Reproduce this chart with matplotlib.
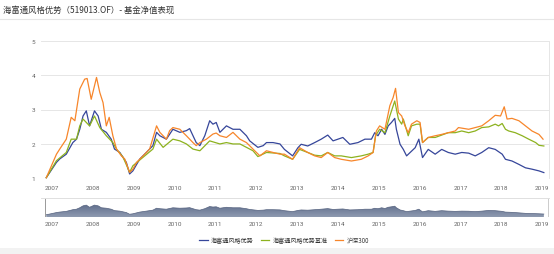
import numpy as np
import matplotlib
matplotlib.use("Agg")
import matplotlib.pyplot as plt
from matplotlib.colors import LinearSegmentedColormap
from matplotlib.patches import Rectangle
from matplotlib.lines import Line2D

plt.rcParams['font.family'] = ['Noto Sans CJK SC', 'DejaVu Sans']

title = "海富通风格优势（519013.OF）- 基金净值表现"
series_names = ["海富通风格优势", "海富通风格优势基准", "沪深300"]
year_ticks = list(range(2007, 2020))
y_ticks = [1, 2, 3, 4, 5]

# fund (blue)
fund_t = [2006.86, 2007.11, 2007.19, 2007.35, 2007.51, 2007.60, 2007.68, 2007.76, 2007.84, 2007.92,
          2008.04, 2008.13, 2008.21, 2008.33, 2008.45, 2008.53, 2008.66, 2008.82, 2008.90, 2008.98,
          2009.15, 2009.31, 2009.47, 2009.56, 2009.64, 2009.80, 2009.96, 2010.13, 2010.29, 2010.37,
          2010.53, 2010.62, 2010.74, 2010.86, 2010.94, 2011.02, 2011.11, 2011.27, 2011.43, 2011.60,
          2011.76, 2011.84, 2012.04, 2012.17, 2012.25, 2012.41, 2012.58, 2012.69, 2012.89, 2013.02,
          2013.10, 2013.26, 2013.43, 2013.59, 2013.75, 2013.88, 2014.00, 2014.12, 2014.29, 2014.49,
          2014.66, 2014.82, 2014.90, 2014.98, 2015.07, 2015.15, 2015.23, 2015.31, 2015.39, 2015.43,
          2015.52, 2015.60, 2015.68, 2015.89, 2015.98, 2016.07, 2016.21, 2016.38, 2016.54, 2016.70,
          2016.87, 2017.03, 2017.20, 2017.36, 2017.52, 2017.69, 2017.85, 2018.02, 2018.10, 2018.26,
          2018.43, 2018.59, 2018.75, 2018.92, 2019.04]
fund_v = [1.00, 1.45, 1.55, 1.69, 2.03, 2.13, 2.42, 2.81, 2.96, 2.52,
          2.96, 2.81, 2.42, 2.33, 2.13, 1.84, 1.74, 1.45, 1.11, 1.20,
          1.55, 1.74, 1.94, 2.33, 2.23, 2.13, 2.42, 2.33, 2.38, 2.44,
          2.03, 1.94, 2.23, 2.67, 2.57, 2.62, 2.33, 2.52, 2.42, 2.42,
          2.23, 2.08, 1.89, 1.94, 2.03, 2.03, 1.99, 1.83, 1.64, 1.88,
          1.98, 1.93, 2.03, 2.13, 2.25, 2.08, 2.13, 2.18, 1.98, 2.03,
          2.13, 2.13, 2.32, 2.23, 2.42, 2.27, 2.52, 2.62, 2.74, 2.42,
          1.98, 1.83, 1.64, 1.88, 2.13, 1.59, 1.83, 1.69, 1.83, 1.74,
          1.69, 1.74, 1.72, 1.64, 1.74, 1.88, 1.83, 1.69, 1.54, 1.49,
          1.39, 1.29, 1.25, 1.20, 1.15]

# benchmark (green)
bench_t = [2006.86, 2007.11, 2007.35, 2007.47, 2007.60, 2007.68, 2007.76, 2007.92, 2008.04, 2008.17,
           2008.33, 2008.49, 2008.58, 2008.74, 2008.90, 2008.98, 2009.23, 2009.47, 2009.56, 2009.72,
           2009.96, 2010.13, 2010.29, 2010.45, 2010.62, 2010.86, 2011.11, 2011.27, 2011.43, 2011.60,
           2011.76, 2011.92, 2012.04, 2012.25, 2012.58, 2012.69, 2012.89, 2013.06, 2013.26, 2013.43,
           2013.59, 2013.75, 2013.92, 2014.08, 2014.33, 2014.57, 2014.74, 2014.86, 2014.92, 2015.02,
           2015.15, 2015.27, 2015.39, 2015.48, 2015.56, 2015.60, 2015.72, 2015.80, 2015.93, 2016.01,
           2016.07, 2016.21, 2016.38, 2016.54, 2016.70, 2016.87, 2017.03, 2017.20, 2017.36, 2017.52,
           2017.69, 2017.85, 2017.93, 2018.02, 2018.10, 2018.18, 2018.34, 2018.51, 2018.67, 2018.84,
           2018.92, 2019.04]
bench_v = [1.00, 1.50, 1.74, 2.13, 2.13, 2.52, 2.72, 2.52, 2.81, 2.47,
           2.23, 2.03, 1.84, 1.60, 1.16, 1.35, 1.60, 1.84, 2.13, 1.89,
           2.13, 2.08, 1.99, 1.84, 1.79, 2.08, 1.99, 2.03, 1.99, 1.99,
           1.89, 1.79, 1.62, 1.74, 1.71, 1.64, 1.54, 1.83, 1.74, 1.66,
           1.64, 1.74, 1.64, 1.64, 1.59, 1.64, 1.69, 1.74, 2.23, 2.42,
           2.32, 2.81, 3.25, 2.72, 2.57, 2.72, 2.23, 2.52, 2.57, 2.57,
           2.03, 2.18, 2.18, 2.25, 2.32, 2.32, 2.37, 2.32, 2.37, 2.47,
           2.49, 2.57, 2.52, 2.59, 2.42, 2.37, 2.32, 2.23, 2.13, 2.03,
           1.95, 1.93]

# CSI 300 (orange)
csi_t = [2006.86, 2007.11, 2007.19, 2007.35, 2007.47, 2007.56, 2007.68, 2007.80, 2007.86, 2007.96,
         2008.09, 2008.17, 2008.25, 2008.33, 2008.40, 2008.49, 2008.58, 2008.70, 2008.78, 2008.90,
         2008.98, 2009.07, 2009.23, 2009.39, 2009.56, 2009.64, 2009.72, 2009.80, 2009.88, 2009.96,
         2010.13, 2010.29, 2010.45, 2010.53, 2010.62, 2010.78, 2010.94, 2011.02, 2011.11, 2011.27,
         2011.43, 2011.60, 2011.76, 2011.92, 2012.09, 2012.25, 2012.41, 2012.58, 2012.69, 2012.89,
         2013.06, 2013.26, 2013.43, 2013.59, 2013.75, 2013.92, 2014.08, 2014.33, 2014.57, 2014.74,
         2014.86, 2014.94, 2015.02, 2015.15, 2015.27, 2015.35, 2015.41, 2015.48, 2015.56, 2015.64,
         2015.72, 2015.80, 2015.93, 2016.01, 2016.07, 2016.21, 2016.38, 2016.54, 2016.70, 2016.87,
         2016.95, 2017.20, 2017.36, 2017.52, 2017.69, 2017.85, 2017.98, 2018.07, 2018.14, 2018.26,
         2018.43, 2018.59, 2018.75, 2018.92, 2019.02]
csi_v = [1.00, 1.69, 1.84, 2.13, 2.77, 2.67, 3.60, 3.89, 3.91, 3.30,
         3.94, 3.50, 3.20, 2.52, 2.77, 2.23, 1.84, 1.64, 1.55, 1.16,
         1.25, 1.45, 1.64, 1.84, 2.52, 2.33, 2.23, 2.13, 2.38, 2.47,
         2.42, 2.23, 2.03, 1.94, 2.03, 2.13, 2.28, 2.31, 2.23, 2.18,
         2.33, 2.13, 2.03, 1.84, 1.64, 1.79, 1.74, 1.69, 1.69, 1.54,
         1.88, 1.74, 1.64, 1.59, 1.74, 1.59, 1.54, 1.49, 1.54, 1.64,
         1.74, 2.37, 2.52, 2.42, 3.11, 3.35, 3.62, 2.91, 2.81, 2.52,
         2.32, 2.57, 2.67, 2.62, 2.03, 2.18, 2.23, 2.27, 2.32, 2.37,
         2.47, 2.42, 2.47, 2.52, 2.67, 2.83, 2.81, 3.08, 2.72, 2.74,
         2.67, 2.52, 2.37, 2.27, 2.13]

colors = ['#36469a', '#8db21f', '#f7862b']
W, H = 554, 255
XMIN, XMAX = 2006.731, 2019.166

fig = plt.figure(figsize=(W / 100, H / 100), dpi=100)
fig.patch.set_facecolor('white')

# title and separator
fig.text(3 / W, 1 - 10.5 / H, title, fontsize=6, color='#333333', va='center', ha='left')
fig.add_artist(Line2D([0, 1], [1 - 20 / H, 1 - 20 / H], color='#e6e6e6', lw=0.8))
fig.add_artist(Rectangle((0, 0), 1, 6 / H, color='#f2f2f2', lw=0))

tick_font = ['Roboto', 'DejaVu Sans']

# main axes
ax = fig.add_axes([41 / W, 1 - 178.7 / H, 508 / W, 136.4 / H])
for t, v, c, name in zip([fund_t, bench_t, csi_t], [fund_v, bench_v, csi_v], colors, series_names):
    ax.plot(t, v, color=c, lw=0.9, label=name, clip_on=False, solid_joinstyle='round')
ax.set_xlim(XMIN, XMAX)
ax.set_ylim(1, 5)
ax.set_yticks(y_ticks)
ax.set_xticks(year_ticks)
ax.set_xticklabels([str(y) for y in year_ticks], family=tick_font)
ax.set_yticklabels([str(y) for y in y_ticks], family=tick_font)
ax.tick_params(axis='both', length=0, labelsize=4.6, colors='#666666')
ax.tick_params(axis='x', pad=5)
ax.tick_params(axis='y', pad=4)
ax.grid(axis='y', color='#e6e6e6', lw=0.7)
ax.set_axisbelow(True)
for s in ['top', 'left', 'bottom']:
    ax.spines[s].set_visible(False)
ax.spines['right'].set_color('#e6e6e6')
ax.spines['right'].set_linewidth(0.7)

# navigator
nav = fig.add_axes([41 / W, 1 - 218 / H, 508 / W, 19 / H])
nav.set_xlim(XMIN, XMAX)
nav.set_ylim(0.55, 4.4)
poly = nav.fill_between(fund_t, 0.55, fund_v, color='none', lw=0)
cmap = LinearSegmentedColormap.from_list('nav', ['#8e9ab0', '#5f6d8c'])
grad = np.linspace(0, 1, 256).reshape(-1, 1)
im = nav.imshow(grad, extent=[fund_t[0], fund_t[-1], 0.55, 3.0], origin='lower',
                aspect='auto', cmap=cmap, zorder=1)
paths = poly.get_paths()
if paths:
    im.set_clip_path(paths[0], transform=nav.transData)
nav.plot(fund_t, fund_v, color='#55627f', lw=0.5, zorder=2)
nav.set_xticks(year_ticks)
nav.set_xticklabels([str(y) for y in year_ticks], family=tick_font)
nav.set_yticks([])
nav.tick_params(axis='x', length=0, labelsize=4.6, colors='#666666', pad=3)
for s in ['left', 'right', 'bottom']:
    nav.spines[s].set_visible(False)
nav.spines['top'].set_color('#e0e0e0')
nav.spines['top'].set_linewidth(0.7)
nav.axvline(fund_t[0] - 0.04, color='#999999', lw=0.7)
nav.axvline(XMAX - 0.03, color='#cccccc', lw=0.7)

# legend
handles = [Line2D([0], [0], color=c, lw=0.9) for c in colors]
fig.legend(handles, series_names, loc='center', bbox_to_anchor=(284 / W, 1 - 241 / H),
           ncol=3, frameon=False, fontsize=4.4, handlelength=1.4, handletextpad=0.5,
           columnspacing=1.2, labelcolor='#333333')

fig.savefig('out.png', dpi=100)
